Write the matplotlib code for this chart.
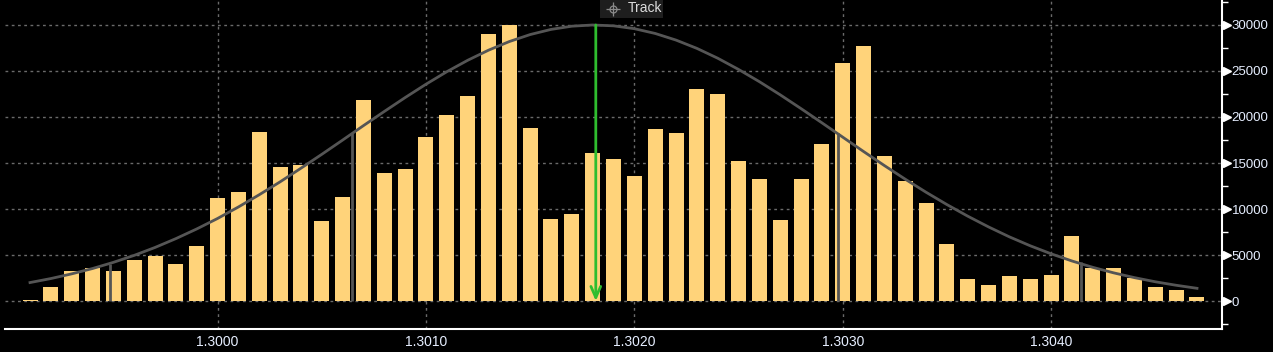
import numpy as np
import matplotlib
matplotlib.use('Agg')
import matplotlib.pyplot as plt
import matplotlib.transforms as mtransforms
from matplotlib.patches import Rectangle

# price bins (every 0.0001) and the volume in each bin
first_bin = 1.2991
bin_step = 0.0001
volume = [100, 1500, 3260, 3620, 3260, 4460, 4890, 4020, 5980, 11200,
          11850, 18370, 14570, 14780, 8700, 11300, 21850, 13900, 14350, 17830,
          20220, 22280, 29020, 30000, 18800, 8900, 9460, 16090, 15430, 13590,
          18700, 18260, 23040, 22500, 15220, 13260, 8800, 13260, 17070, 25870,
          27720, 15760, 13040, 10650, 6200, 2390, 1740, 2720, 2390, 2830,
          7070, 3590, 3590, 2500, 1520, 1200, 430]

# fitted curve read at each bin centre
curve = [2005, 2440, 2950, 3530, 4200, 4960, 5820, 6780, 7830, 8970,
         10220, 11550, 12950, 14430, 15940, 17490, 19060, 20600, 22110, 23560,
         24920, 26160, 27260, 28200, 28960, 29520, 29870, 30000, 29910, 29600,
         29080, 28360, 27460, 26390, 25170, 23840, 22410, 20910, 19370, 17810,
         16250, 14720, 13240, 11820, 10480, 9220, 8050, 6970, 6000, 5130,
         4350, 3660, 3060, 2540, 2090, 1710, 1380]

# the 1 and 2 sigma markers and the mean arrow
sigma_x = [1.299482, 1.300647, 1.302975, 1.304142]
sigma_h = [4020, 18260, 18260, 4240]
mean_x = 1.301815
mean_top = 30000

x_ticks = [1.3000, 1.3010, 1.3020, 1.3030, 1.3040]
y_ticks = [0, 5000, 10000, 15000, 20000, 25000, 30000]
y_minor = [-2500, 2500, 7500, 12500, 17500, 22500, 27500, 32500]

plt.rcParams['font.family'] = ['Liberation Sans', 'DejaVu Sans']
txt_col = '#e6eeff'

fig = plt.figure(figsize=(12.73, 3.52), dpi=100, facecolor='black')
ax = fig.add_axes([5 / 1273, 1 - 329 / 352, 1217 / 1273, 329 / 352])
ax.set_facecolor('black')

xs = first_bin + bin_step * np.arange(len(volume))
ax.bar(xs, volume, width=bin_step * 0.72, color='#ffd37a', zorder=2)
ax.plot(xs, curve, color='#555555', lw=2, zorder=3)
ax.vlines(sigma_x, 0, sigma_h, color='#555555', lw=2, zorder=3)

# mean arrow
ax.annotate('', xy=(mean_x, 0), xytext=(mean_x, mean_top),
            arrowprops=dict(arrowstyle='->,head_length=0.8,head_width=0.35',
                            color='#2fbd2f', lw=2, shrinkA=0, shrinkB=0),
            zorder=4)

ax.set_xlim(1.29898, 1.30482)
ax.set_ylim(-3043, 32717)

# grid
ax.set_axisbelow(True)
ax.grid(True, color='#6a6a6a', linestyle=(0, (2, 2.5)), lw=1)

# axes styling
for s in ['top', 'left']:
    ax.spines[s].set_visible(False)
ax.spines['bottom'].set_color('white')
ax.spines['right'].set_color('white')
ax.spines['bottom'].set_linewidth(1.5)
ax.spines['right'].set_linewidth(1.5)

ax.set_xticks(x_ticks)
ax.set_xticklabels(['%.4f' % v for v in x_ticks])
ax.tick_params(axis='x', length=0, pad=4, labelsize=10, labelcolor=txt_col)

ax.yaxis.tick_right()
ax.set_yticks(y_ticks)
ax.set_yticklabels([str(v) for v in y_ticks])
ax.set_yticks(y_minor, minor=True)
ax.tick_params(axis='y', which='major', length=0, pad=7, labelsize=9.5, labelcolor=txt_col)
ax.tick_params(axis='y', which='minor', length=4, width=1, color='white', direction='out')

# white triangle markers on major y ticks
ax.plot([1.0045] * len(y_ticks), y_ticks, marker='>', ms=6, color='white', ls='none',
        transform=ax.get_yaxis_transform(), clip_on=False, zorder=5)

# "Track" label box at the top (x in data, y in axes fraction)
trans = mtransforms.blended_transform_factory(ax.transData, ax.transAxes)
ax.add_patch(Rectangle((1.301834, 1 - 18 / 329), 0.000302, 18 / 329, transform=trans,
                       fc='#1e1e1e', ec='none', zorder=6, clip_on=False))
# little crosshair icon
cx = 1.301898
cy = 1 - 8.5 / 329
ax.plot([cx], [cy], marker='o', ms=5, mfc='none', mec='#8a8a8a', mew=0.9,
        transform=trans, zorder=7, clip_on=False)
ax.plot([cx], [cy], marker='+', ms=10, mec='#8a8a8a', mew=0.9,
        transform=trans, zorder=7, clip_on=False)
ax.text(1.301968, 1 - 8.5 / 329, 'Track', color='#dcdcdc', fontsize=10,
        ha='left', va='center', transform=trans, zorder=7)

fig.savefig('out.png', dpi=100, facecolor='black')
